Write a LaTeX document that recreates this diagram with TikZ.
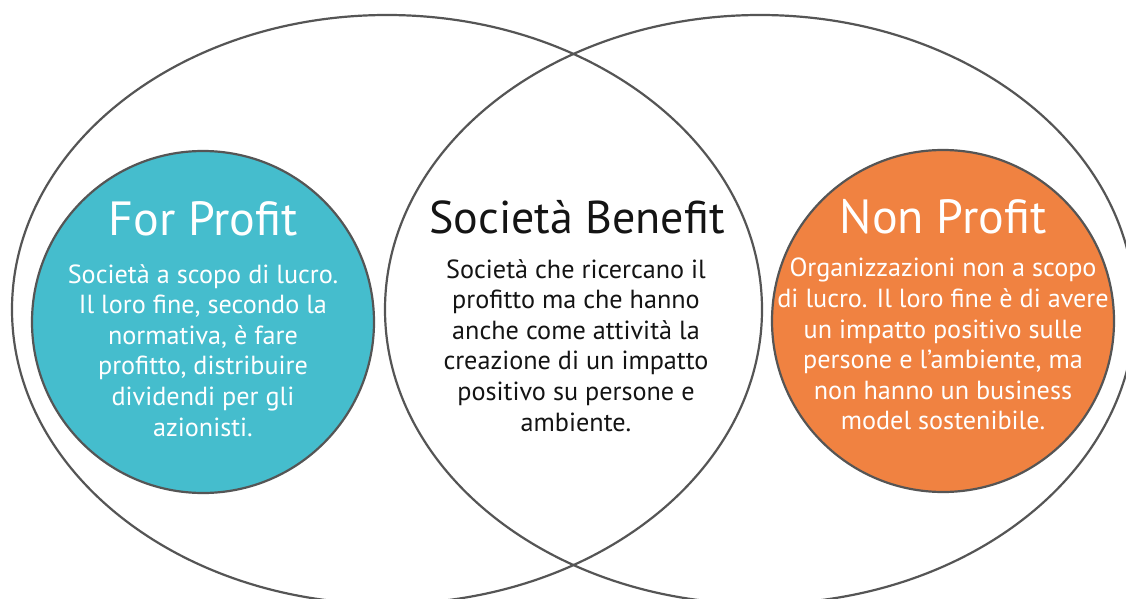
\documentclass[tikz,border=0pt]{standalone}
\usepackage{fontspec}
\setmainfont{PT Sans}
\definecolor{teal}{HTML}{45BDCD}
\definecolor{orng}{HTML}{F08241}
\definecolor{edge}{HTML}{555555}
\definecolor{ink}{HTML}{141414}
\begin{document}
\begin{tikzpicture}[x=1pt,y=-1pt,
  venn/.style={draw=edge,line width=2.2pt},
  disc/.style={circle,draw=edge,line width=2.2pt,minimum size=342pt,inner sep=0pt},
  ttl/.style={font=\fontsize{48}{52}\selectfont,anchor=base,inner sep=0pt},
  body/.style={font=\fontsize{26.2}{30.6}\selectfont,align=center,anchor=north,inner sep=0pt}]
\useasboundingbox (0,0) rectangle (1126,599);
\clip (0,0) rectangle (1126,599);
\fill[white] (0,0) rectangle (1126,599);
\draw[venn] (387,309.5) ellipse [x radius=375, y radius=294.5];
\draw[venn] (760,309.5) ellipse [x radius=375, y radius=294.5];
\node[disc,fill=teal] (fp) at (203,322) {};
\node[disc,fill=orng] (np) at (943,321) {};
\node[ttl,white] (fpt) at (203,235) {For Profit};
\node[ttl,ink,font=\fontsize{46}{50}\selectfont] (sbt) at (577,233) {Società Benefit};
\node[ttl,white] (npt) at (943,233) {Non Profit};
\node[body,white] (fpb) at (203,264) {Società a scopo di lucro.\\Il loro fine, secondo la\\normativa, è fare\\profitto, distribuire\\dividendi per gli\\azionisti.};
\node[body,ink] (sbb) at (576,259) {Società che ricercano il\\profitto ma che hanno\\anche come attività la\\creazione di un impatto\\positivo su persone e\\ambiente.};
\node[body,white] (npb) at (943,258) {Organizzazioni non a scopo\\di lucro. Il loro fine è di avere\\un impatto positivo sulle\\persone e l’ambiente, ma\\non hanno un business\\model sostenibile.};
\end{tikzpicture}
\end{document}
